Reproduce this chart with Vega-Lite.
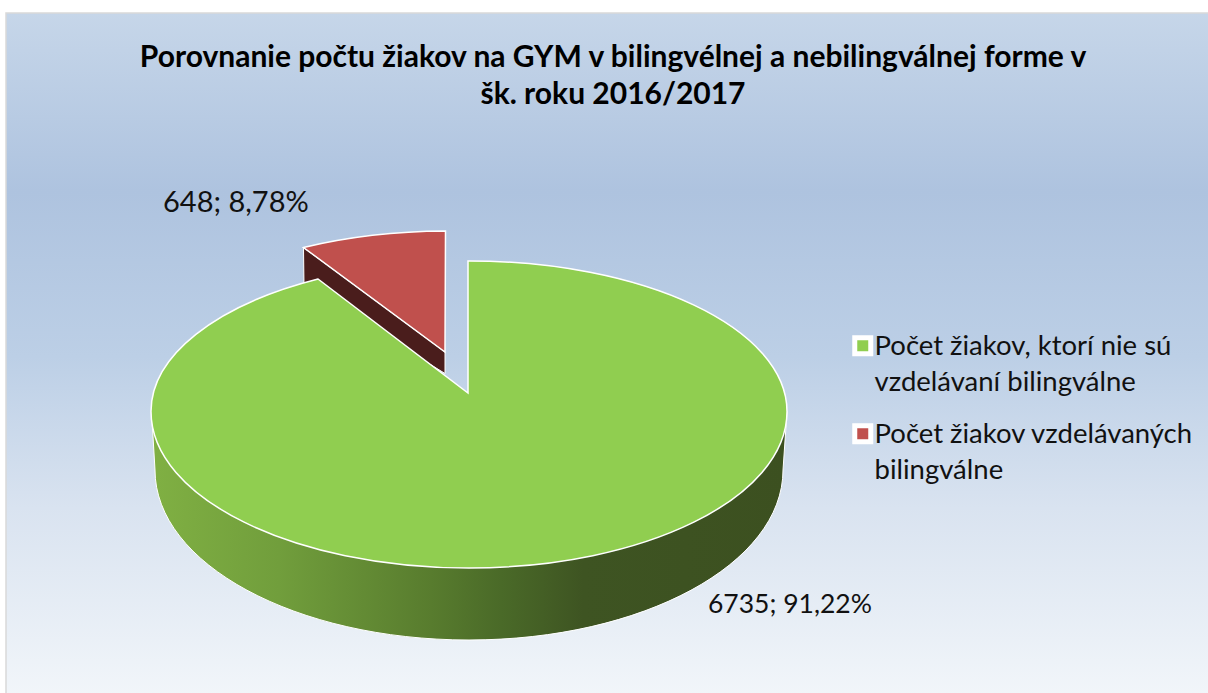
{
"$schema":"https://vega.github.io/schema/vega-lite/v6.json",
"width":1208,"height":693,"padding":0,"autosize":"none","background":"#ffffff",
"config":{"view":{"stroke":null},"font":"Lato"},
"title":{"text":["Porovnanie počtu žiakov na GYM v bilingvélnej a nebilingválnej forme v","šk. roku 2016/2017"],"font":"Lato","fontWeight":"bold","fontSize":30,"lineHeight":37,"color":"#000000","anchor":"middle","frame":"group","orient":"top","offset":0,"dx":9,"dy":134,"baseline":"alphabetic"},
"data":{"values":[
{"kategoria":"Počet žiakov, ktorí nie sú vzdelávaní bilingválne","pocet":6735,"podiel":"91,22%","popis":"6735; 91,22%"},
{"kategoria":"Počet žiakov vzdelávaných bilingválne","pocet":648,"podiel":"8,78%","popis":"648; 8,78%"}
]},
"layer":[
{"data":{"values":[{"prvok":"pozadie"}]},
 "mark":{"type":"point","filled":true,"opacity":1,"size":4,"shape":"M-598 -333.5H612V354H-598Z","stroke":"#d9d9d9","strokeWidth":1.5,
 "fill":{"gradient":"linear","x1":0,"y1":0,"x2":0,"y2":1,"stops":[{"offset":0,"color":"#c6d6e9"},{"offset":0.26,"color":"#aec3df"},{"offset":0.5,"color":"#bccfe6"},{"offset":0.72,"color":"#d9e3f0"},{"offset":1,"color":"#f2f6fa"}]}},"encoding":{}},
{"transform":[{"filter":"datum.pocet==6735"}],
 "mark":{"type":"point","filled":true,"opacity":1,"size":4,"shape":"M-452.5 65L-449 123.5A314 170 0 0 0 179 123.5L183 65Z","stroke":"#ffffff","strokeWidth":1,
 "fill":{"gradient":"linear","x1":0,"y1":0,"x2":1,"y2":0,"stops":[{"offset":0,"color":"#80b043"},{"offset":0.2,"color":"#719e3c"},{"offset":0.44,"color":"#587c2e"},{"offset":0.55,"color":"#4a6a28"},{"offset":0.68,"color":"#3e5422"},{"offset":1,"color":"#3c5020"}]}},"encoding":{}},
{"transform":[{"filter":"datum.pocet==648"}],
 "mark":{"type":"point","filled":true,"opacity":1,"size":4,"shape":"M-300.5 -99L-159 5.5L-159 27L-300 -60Z","fill":"#4a1d1c","stroke":"#ffffff","strokeWidth":1},"encoding":{}},
{"mark":{"type":"point","filled":true,"opacity":1,"size":4,"stroke":"#ffffff","strokeWidth":1.5},
 "encoding":{
  "shape":{"field":"kategoria","type":"nominal","legend":null,"scale":{"domain":["Počet žiakov vzdelávaných bilingválne","Počet žiakov, ktorí nie sú vzdelávaní bilingválne"],"range":["M-300.5 -99A318 150.5 0 0 1 -158.5 -115.5L-159 5.5Z","M-136 -85.5A318 150.5 0 0 1 183 65A318 156.5 0 0 1 -453 65A318 150.5 0 0 1 -286 -67.5L-136 46.5Z"]}},
  "fill":{"field":"kategoria","type":"nominal","sort":["Počet žiakov, ktorí nie sú vzdelávaní bilingválne","Počet žiakov vzdelávaných bilingválne"],
   "scale":{"domain":["Počet žiakov, ktorí nie sú vzdelávaní bilingválne","Počet žiakov vzdelávaných bilingválne"],"range":["#90ce50","#c0504d"]},
   "legend":{"title":null,"orient":"none","legendX":849,"legendY":332,"symbolType":"square","symbolSize":256,"symbolStrokeColor":"#ffffff","symbolStrokeWidth":5,"symbolOpacity":1,"labelFont":"Lato","labelFontSize":27.5,"labelColor":"#111111","labelLimit":400,"rowPadding":18,"labelOffset":-2,"labelBaseline":"top",
   "encode":{"labels":{"update":{"lineHeight":{"value":36},"dy":{"value":-13}}}},
   "labelExpr":"indexof(datum.label,'ktorí')>0 ? ['Počet žiakov, ktorí nie sú','vzdelávaní bilingválne'] : ['Počet žiakov vzdelávaných','bilingválne']"}
  }
 }},
{"transform":[{"filter":"datum.pocet==648"}],
 "mark":{"type":"text","align":"left","baseline":"alphabetic","font":"Lato","fontSize":29,"color":"#111111","dx":-441,"dy":-135},
 "encoding":{"text":{"field":"popis"}}},
{"transform":[{"filter":"datum.pocet==6735"}],
 "mark":{"type":"text","align":"left","baseline":"alphabetic","font":"Lato","fontSize":26.5,"color":"#111111","dx":104,"dy":266},
 "encoding":{"text":{"field":"popis"}}}
]}
